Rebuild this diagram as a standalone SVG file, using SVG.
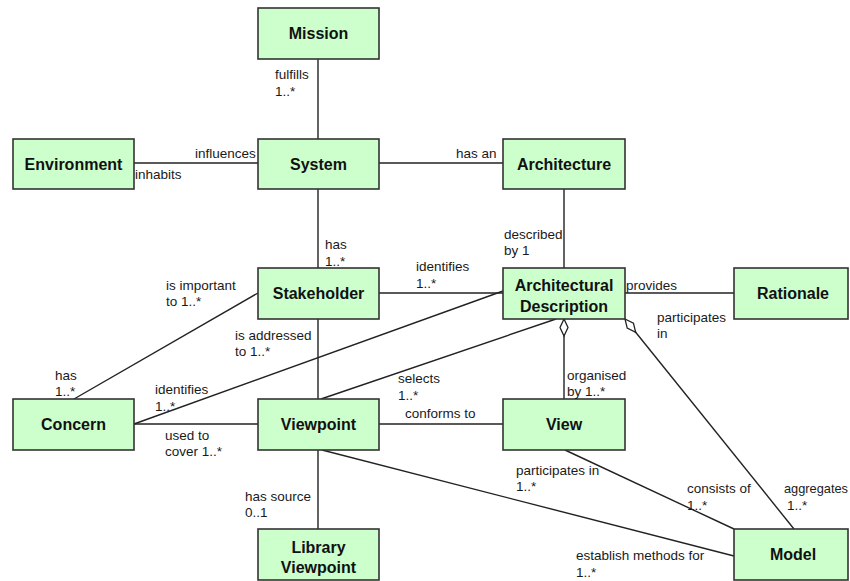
<svg xmlns="http://www.w3.org/2000/svg" width="850" height="581" viewBox="0 0 850 581">
  <defs>
    <style>
      .node rect { fill: #ccffcc; stroke: #333333; stroke-width: 1.6; }
      .node text { font-family: "Liberation Sans", Arial, sans-serif; font-size: 16px; font-weight: bold; fill: #111111; text-anchor: middle; }
      .edges line, .edges path { stroke: #222222; stroke-width: 1.4; fill: none; }
      .lbl { font-family: "Liberation Sans", Arial, sans-serif; font-size: 13.5px; fill: #1a1a1a; }
    </style>
    <!-- hollow aggregation diamond, drawn at the start of a path -->
    <marker id="diamond" markerUnits="userSpaceOnUse" markerWidth="19" markerHeight="10" refX="0" refY="4.5" orient="auto" overflow="visible">
      <path d="M0,4.5 L8.5,0.5 L17,4.5 L8.5,8.5 Z" fill="#ffffff" stroke="#222222" stroke-width="1.3"/>
    </marker>
  </defs>
  <rect width="850" height="581" fill="#ffffff"/>

  <g class="edges">
    <line x1="318" y1="59" x2="318" y2="139"/>
    <line x1="134" y1="163" x2="258" y2="163"/>
    <line x1="379" y1="163" x2="503" y2="163"/>
    <line x1="318" y1="189" x2="318" y2="268"/>
    <line x1="564" y1="189" x2="564" y2="268"/>
    <line x1="625" y1="293" x2="734" y2="293"/>
    <line x1="379" y1="293" x2="503" y2="293"/>
    <line x1="258" y1="293" x2="74" y2="399"/>
    <line x1="134" y1="424" x2="503" y2="291"/>
    <line x1="134" y1="424" x2="258" y2="424"/>
    <line x1="318" y1="319" x2="318" y2="399"/>
    <line x1="321" y1="399" x2="556" y2="319"/>
    <path d="M564,319 L564,399" marker-start="url(#diamond)"/>
    <path d="M625,319 L794,529" marker-start="url(#diamond)"/>
    <line x1="565" y1="450" x2="734" y2="529"/>
    <line x1="322" y1="450" x2="734" y2="556"/>
    <line x1="379" y1="424" x2="503" y2="424"/>
    <line x1="318" y1="450" x2="318" y2="529"/>
  </g>

  <g id="mission" class="node"><rect x="258" y="8" width="121" height="51"/><text x="318.5" y="39">Mission</text></g>
  <g id="environment" class="node"><rect x="13" y="139" width="121" height="50"/><text x="73.5" y="170">Environment</text></g>
  <g id="system" class="node"><rect x="258" y="139" width="121" height="50"/><text x="318.5" y="170">System</text></g>
  <g id="architecture" class="node"><rect x="503" y="139" width="122" height="50"/><text x="564" y="170">Architecture</text></g>
  <g id="stakeholder" class="node"><rect x="258" y="268" width="121" height="51"/><text x="318.5" y="299">Stakeholder</text></g>
  <g id="architectural-description" class="node"><rect x="503" y="268" width="122" height="51"/><text x="564" y="291">Architectural</text><text x="564" y="312">Description</text></g>
  <g id="rationale" class="node"><rect x="734" y="268" width="114" height="51"/><text x="793" y="299">Rationale</text></g>
  <g id="concern" class="node"><rect x="13" y="399" width="121" height="51"/><text x="73.5" y="430">Concern</text></g>
  <g id="viewpoint" class="node"><rect x="258" y="399" width="121" height="51"/><text x="318.5" y="430">Viewpoint</text></g>
  <g id="view" class="node"><rect x="503" y="399" width="122" height="51"/><text x="564" y="430">View</text></g>
  <g id="library-viewpoint" class="node"><rect x="258" y="529" width="121" height="51"/><text x="318.5" y="553">Library</text><text x="318.5" y="573">Viewpoint</text></g>
  <g id="model" class="node"><rect x="734" y="529" width="114" height="51"/><text x="793" y="560">Model</text></g>

  <g class="labels">
    <text class="lbl" x="275" y="79">fulfills</text>
    <text class="lbl" x="275" y="96">1..*</text>
    <text class="lbl" x="195" y="158">influences</text>
    <text class="lbl" x="135" y="179">inhabits</text>
    <text class="lbl" x="456" y="158">has an</text>
    <text class="lbl" x="325" y="249">has</text>
    <text class="lbl" x="325" y="266">1..*</text>
    <text class="lbl" x="504" y="239">described</text>
    <text class="lbl" x="504" y="255">by 1</text>
    <text class="lbl" x="416" y="271">identifies</text>
    <text class="lbl" x="416" y="288">1..*</text>
    <text class="lbl" x="626" y="290">provides</text>
    <text class="lbl" x="166" y="290">is important</text>
    <text class="lbl" x="166" y="306">to 1..*</text>
    <text class="lbl" x="235" y="340">is addressed</text>
    <text class="lbl" x="235" y="356">to 1..*</text>
    <text class="lbl" x="657" y="322">participates</text>
    <text class="lbl" x="657" y="338">in</text>
    <text class="lbl" x="55" y="380">has</text>
    <text class="lbl" x="55" y="396">1..*</text>
    <text class="lbl" x="155" y="394">identifies</text>
    <text class="lbl" x="155" y="411">1..*</text>
    <text class="lbl" x="398" y="383">selects</text>
    <text class="lbl" x="398" y="400">1..*</text>
    <text class="lbl" x="567" y="380">organised</text>
    <text class="lbl" x="567" y="396">by 1..*</text>
    <text class="lbl" x="405" y="418">conforms to</text>
    <text class="lbl" x="165" y="440">used to</text>
    <text class="lbl" x="165" y="456">cover 1..*</text>
    <text class="lbl" x="516" y="475">participates in</text>
    <text class="lbl" x="516" y="491">1..*</text>
    <text class="lbl" x="687" y="493">consists of</text>
    <text class="lbl" x="687" y="510">1..*</text>
    <text class="lbl" x="784" y="493" textLength="64" lengthAdjust="spacingAndGlyphs">aggregates</text>
    <text class="lbl" x="787" y="510">1..*</text>
    <text class="lbl" x="245" y="501">has source</text>
    <text class="lbl" x="245" y="517">0..1</text>
    <text class="lbl" x="576" y="560">establish methods for</text>
    <text class="lbl" x="576" y="577">1..*</text>
  </g>
</svg>
